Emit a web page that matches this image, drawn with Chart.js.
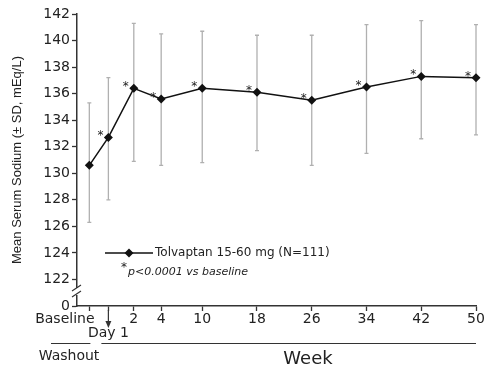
<!DOCTYPE html>
<html>
<head>
<meta charset="utf-8">
<title>Serum sodium over time</title>
<script src="https://cdn.jsdelivr.net/npm/chart.js@4.4.1/dist/chart.umd.min.js"></script>
<style>
  body { margin: 0; background: #fff; }
  canvas { display: block; }
</style>
</head>
<body>
<canvas id="chart" width="498" height="369"></canvas>
<script>
// visit times in weeks (baseline sits a bit before day 1)
const visitWeeks = [-1.25, 1 / 7, 2, 4, 10, 18, 26, 34, 42, 50];
const visitLabels = ['Baseline', 'Day 1', '2', '4', '10', '18', '26', '34', '42', '50'];

// mean serum sodium (mEq/L) and the ends of the SD bars
const sodiumMean = [130.6, 132.7, 136.4, 135.6, 136.4, 136.1, 135.5, 136.5, 137.3, 137.2];
const sdUpper = [135.3, 137.2, 141.3, 140.5, 140.7, 140.4, 140.4, 141.2, 141.5, 141.2];
const sdLower = [126.3, 128.0, 130.9, 130.6, 130.8, 131.7, 130.6, 131.5, 132.6, 132.9];

// asterisk = p<0.0001 vs baseline
const significant = [false, true, true, true, true, true, true, true, true, true];

// y axis is broken below 122, the bottom tick reads 0
const yTickValues = [120, 122, 124, 126, 128, 130, 132, 134, 136, 138, 140, 142];

const TEXT = '#222';
const AXIS = '#333';

// linear scale, but the first weeks (before week 4) are drawn wider like in the paper
class VisitScale extends Chart.LinearScale {
  warp(v) {
    const edge = this.options.stretchBefore ?? 4;
    const k = this.options.stretch ?? 2;
    return v >= edge ? v : edge + (v - edge) * k;
  }
  getPixelForValue(value) {
    const a = this.warp(this.min), b = this.warp(this.max);
    return this.getPixelForDecimal((this.warp(value) - a) / (b - a));
  }
  getValueForPixel(pixel) {
    const edge = this.options.stretchBefore ?? 4;
    const k = this.options.stretch ?? 2;
    const a = this.warp(this.min), b = this.warp(this.max);
    const t = a + this.getDecimalForPixel(pixel) * (b - a);
    return t >= edge ? t : edge + (t - edge) / k;
  }
}
VisitScale.id = 'visit';
VisitScale.defaults = Chart.LinearScale.defaults;
Chart.register(VisitScale);

const decor = {
  id: 'decor',
  beforeDatasetsDraw(chart) {
    // SD whiskers behind the line
    const { ctx, scales: { x, y } } = chart;
    ctx.save();
    ctx.strokeStyle = '#b0b0b0';
    ctx.lineWidth = 1.3;
    visitWeeks.forEach((w, i) => {
      const px = x.getPixelForValue(w);
      const top = y.getPixelForValue(sdUpper[i]);
      const bot = y.getPixelForValue(sdLower[i]);
      ctx.beginPath();
      ctx.moveTo(px, top); ctx.lineTo(px, bot);
      ctx.moveTo(px - 2, top); ctx.lineTo(px + 2, top);
      ctx.moveTo(px - 2, bot); ctx.lineTo(px + 2, bot);
      ctx.stroke();
    });
    ctx.restore();
  },
  afterDraw(chart) {
    const { ctx, chartArea: area, scales: { x, y } } = chart;
    ctx.save();
    ctx.fillStyle = TEXT;

    // asterisks
    ctx.font = '12px "DejaVu Sans"';
    ctx.textAlign = 'center';
    ctx.textBaseline = 'alphabetic';
    visitWeeks.forEach((w, i) => {
      if (!significant[i]) return;
      ctx.fillText('*', x.getPixelForValue(w) - 8, y.getPixelForValue(sodiumMean[i]) + 2);
    });

    // legend inside the plot
    const ly = y.getPixelForValue(124);
    const lx = area.left + 28;
    ctx.strokeStyle = '#111';
    ctx.lineWidth = 1.5;
    ctx.beginPath();
    ctx.moveTo(lx, ly); ctx.lineTo(lx + 48, ly);
    ctx.stroke();
    ctx.fillStyle = '#111';
    ctx.beginPath();
    ctx.moveTo(lx + 24, ly - 4.5);
    ctx.lineTo(lx + 28.5, ly);
    ctx.lineTo(lx + 24, ly + 4.5);
    ctx.lineTo(lx + 19.5, ly);
    ctx.closePath();
    ctx.fill();
    ctx.fillStyle = TEXT;
    ctx.textAlign = 'left';
    ctx.textBaseline = 'middle';
    ctx.font = '12px "DejaVu Sans"';
    ctx.fillText('Tolvaptan 15-60 mg (N=111)', lx + 50, ly);
    ctx.fillText('*', lx + 16, ly + 15);
    ctx.font = 'italic 11px "DejaVu Sans"';
    ctx.fillText('p<0.0001 vs baseline', lx + 23, ly + 19);

    // axis break marks between 0 and 122
    const bx = area.left;
    const by = area.bottom - 14;
    ctx.fillStyle = '#fff';
    ctx.fillRect(bx - 3, by - 4, 6, 7);
    ctx.strokeStyle = AXIS;
    ctx.lineWidth = 1.2;
    ctx.beginPath();
    ctx.moveTo(bx - 5, by - 1); ctx.lineTo(bx + 4, by - 7);
    ctx.moveTo(bx - 5, by + 5); ctx.lineTo(bx + 4, by - 1);
    ctx.stroke();

    // arrow under Day 1
    const dx = x.getPixelForValue(visitWeeks[1]);
    ctx.strokeStyle = AXIS;
    ctx.lineWidth = 1.2;
    ctx.beginPath();
    ctx.moveTo(dx, area.bottom + 4); ctx.lineTo(dx, area.bottom + 16);
    ctx.stroke();
    ctx.fillStyle = AXIS;
    ctx.beginPath();
    ctx.moveTo(dx - 3, area.bottom + 15);
    ctx.lineTo(dx + 3, area.bottom + 15);
    ctx.lineTo(dx, area.bottom + 22);
    ctx.closePath();
    ctx.fill();

    // washout / week bands
    const bandY = area.bottom + 37.5;
    ctx.lineWidth = 1.2;
    ctx.beginPath();
    ctx.moveTo(area.left - 26, bandY); ctx.lineTo(dx - 18, bandY);
    ctx.moveTo(dx - 7, bandY); ctx.lineTo(area.right, bandY);
    ctx.stroke();
    ctx.fillStyle = TEXT;
    ctx.textAlign = 'center';
    ctx.textBaseline = 'alphabetic';
    ctx.font = '14px "DejaVu Sans"';
    ctx.fillText('Washout', area.left - 8, bandY + 16);
    ctx.font = '18px "DejaVu Sans"';
    ctx.fillText('Week', 308, bandY + 20);

    ctx.restore();
  }
};

new Chart(document.getElementById('chart'), {
  type: 'line',
  data: {
    datasets: [{
      label: 'Tolvaptan 15-60 mg (N=111)',
      data: visitWeeks.map((w, i) => ({ x: w, y: sodiumMean[i] })),
      borderColor: '#111',
      backgroundColor: '#111',
      borderWidth: 1.5,
      tension: 0,
      pointStyle: 'rectRot',
      pointRadius: 4.5,
      pointBorderWidth: 0,
      clip: false
    }]
  },
  options: {
    responsive: false,
    animation: false,
    layout: { padding: { top: 14, right: 22, bottom: 0, left: 0 } },
    plugins: {
      legend: { display: false },
      tooltip: { enabled: false }
    },
    scales: {
      x: {
        type: 'visit',
        min: -2.15,
        max: 50,
        stretchBefore: 4,
        stretch: 2,
        afterBuildTicks: (s) => { s.ticks = visitWeeks.map((v) => ({ value: v })); },
        afterFit: (s) => { s.height = 63; },
        ticks: {
          autoSkip: false,
          maxRotation: 0,
          padding: 1,
          color: TEXT,
          font: { family: 'DejaVu Sans', size: 14, lineHeight: 1.0 },
          callback: (v, i) => {
            if (i === 0) return visitLabels[0].padEnd(19);
            if (i === 1) return ['', visitLabels[1]];
            return visitLabels[i];
          }
        },
        grid: { drawOnChartArea: false, tickLength: 5, color: AXIS, tickWidth: 1.3 },
        border: { display: true, color: AXIS, width: 1.5 }
      },
      y: {
        min: 120,
        max: 142,
        afterBuildTicks: (s) => { s.ticks = yTickValues.map((v) => ({ value: v })); },
        afterFit: (s) => { s.width = 77; },
        ticks: {
          padding: 2,
          color: TEXT,
          font: { family: 'DejaVu Sans', size: 14 },
          callback: (v) => (v === 120 ? '0' : String(v))
        },
        grid: { drawOnChartArea: false, tickLength: 5, color: AXIS, tickWidth: 1.3 },
        border: { display: true, color: AXIS, width: 1.5 },
        title: {
          display: true,
          text: 'Mean Serum Sodium (\u00b1 SD, mEq/L)',
          color: TEXT,
          font: { family: 'Liberation Sans', size: 13 },
          padding: { top: 10, bottom: 0 }
        }
      }
    }
  },
  plugins: [decor]
});
</script>
</body>
</html>
